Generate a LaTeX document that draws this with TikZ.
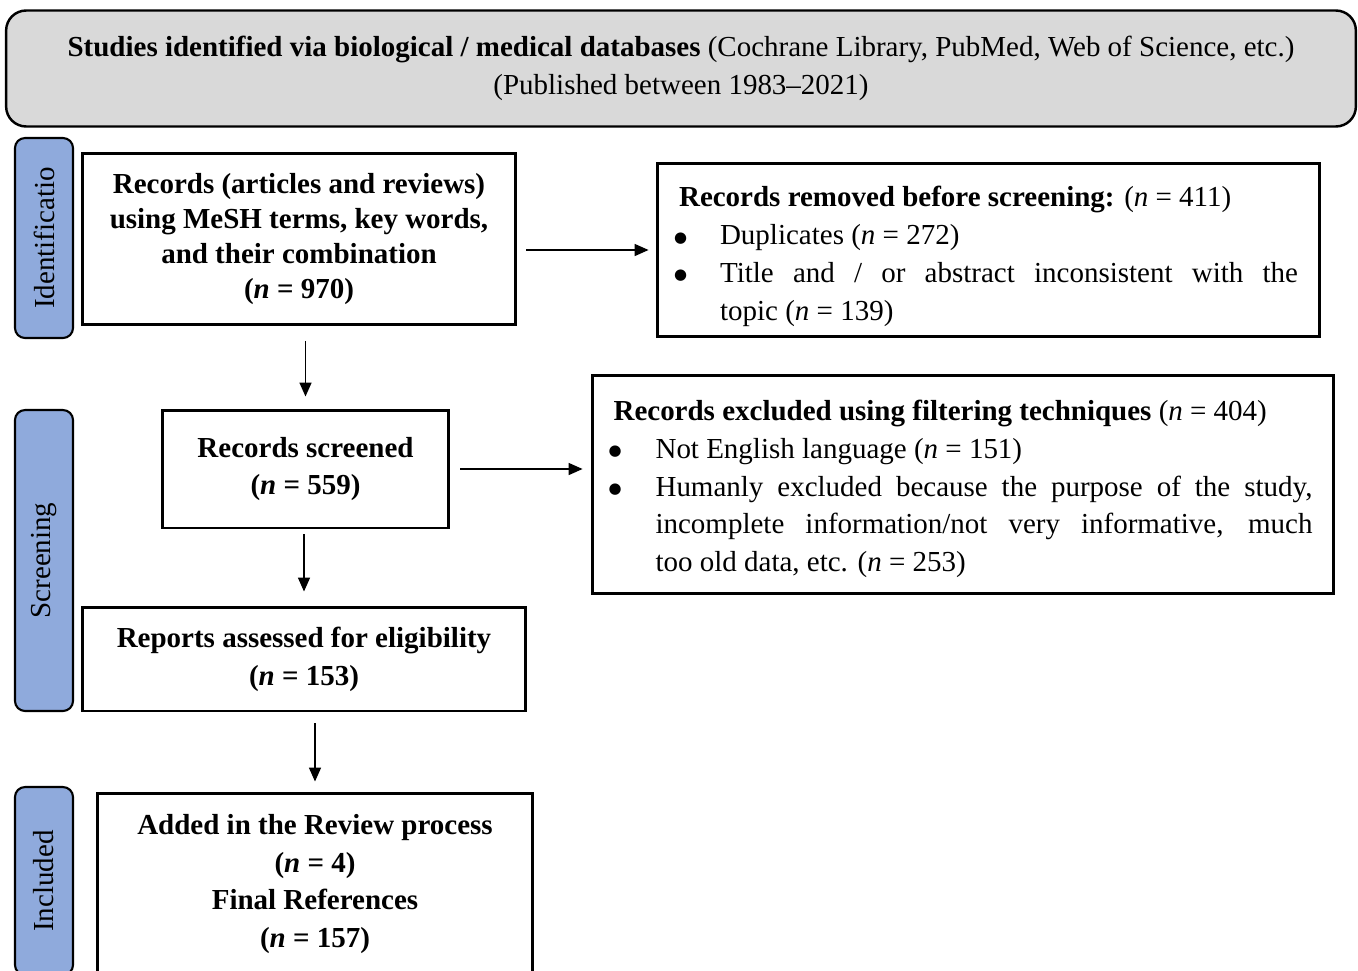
\documentclass[tikz,border=0pt]{standalone}
\usepackage{fontspec}
\setmainfont{Liberation Serif}
\newfontfamily\symfont{DejaVu Sans}
\usetikzlibrary{arrows.meta,positioning}
\definecolor{tabblue}{RGB}{143,170,220}
\definecolor{headgray}{RGB}{217,217,217}
\newcommand{\nval}[1]{(\textit{n} = #1)}
\newcommand{\bul}{\hspace*{-0.1cm}\raisebox{0.05cm}{\symfont\fontsize{8.5}{9}\selectfont ●}}

\begin{document}
\begin{tikzpicture}[x=0.02cm,y=-0.02cm,inner sep=0pt]
  \clip(0,0)rectangle(1358,970);
  \tikzstyle{b}=[draw,line width=1.7pt,align=center,font=\fontsize{16.5}{21.5}\selectfont]
  \tikzstyle{tab}=[draw,line width=1.2pt,rounded corners=0.2cm,fill=tabblue,rotate=90,minimum height=1.16cm,font=\fontsize{16.5}{21.5}\selectfont]
  \node[b,line width=1.4pt,rounded corners=0.4cm,fill=headgray,minimum width=27cm,minimum height=2.32cm](db)at(681,68.5){\textbf{Studies identified via biological / medical databases} (Cochrane Library, PubMed, Web of Science, etc.)\\(Published between 1983--2021)};
  \foreach\n/\y/\h/\t in{idt/238/4/Identificatio,scrn/560.5/6.02/Screening,incl/881/3.76/Included}{\node[tab,minimum width=\h cm](\n)at(44,\y){\t};}
  \node[b,font=\fontsize{16.5}{20}\selectfont,minimum width=8.68cm,minimum height=3.42cm](b1)at(299,239){\textbf{Records (articles and reviews)}\\\textbf{using MeSH terms, key words,}\\\textbf{and their combination}\\\textbf{\nval{970}}};
  \node[b,minimum width=13.26cm,minimum height=3.48cm](rem)at(988.5,250){\raisebox{-0.12cm}[\height][\depth]{\begin{tabular}{@{}p{0.82cm}@{}p{11.56cm}@{}}
    \multicolumn{2}{@{}l@{}}{\textbf{Records removed before screening:} \nval{411}}\\
    \bul & Duplicates \nval{272}\\
    \bul & Title and / or abstract inconsistent with the\linebreak topic \nval{139}
  \end{tabular}}};
  \node[b,minimum width=5.74cm,minimum height=2.36cm](scr)at(305.5,469){\textbf{Records screened}\\\textbf{\nval{559}}};
  \node[b,minimum width=14.84cm,minimum height=4.38cm](exc)at(963,484.5){\raisebox{-0.08cm}[\height][\depth]{\begin{tabular}{@{}p{0.84cm}@{}p{13.14cm}@{}}
    \multicolumn{2}{@{}l@{}}{\textbf{Records excluded using filtering techniques} \nval{404}}\\
    \bul & Not English language \nval{151}\\
    \bul & Humanly excluded because the purpose of the study,\linebreak incomplete information/not very informative, much\linebreak too old data, etc. \nval{253}
  \end{tabular}}};
  \node[b,minimum width=8.88cm,minimum height=2.08cm](rep)at(304,659){\textbf{Reports assessed for eligibility}\\\textbf{\nval{153}}};
  \node[b,minimum width=8.72cm,minimum height=3.64cm](fin)at(315,884){\textbf{Added in the Review process}\\\textbf{\nval{4}}\\\textbf{Final References}\\\textbf{\nval{157}}};
  \tikzstyle{e}=[-{Triangle[length=0.28cm,width=0.24cm]},draw=black,line width=0.9pt]
  \draw[e,shorten <=0.18cm,shorten >=0.14cm](b1.east|-rem.west)--(rem.west);
  \draw[e,shorten <=0.2cm,shorten >=0.16cm](scr.east)--(scr.east-|exc.west);
  \foreach\o/\d/\s/\t in{b1/scr/0.3/0.24,scr/rep/0.1/0.28,rep/fin/0.22/0.2}{\draw[e,shorten <=\s cm,shorten >=\t cm](\d.north|-\o.south)--(\d.north);}
\end{tikzpicture}
\end{document}
